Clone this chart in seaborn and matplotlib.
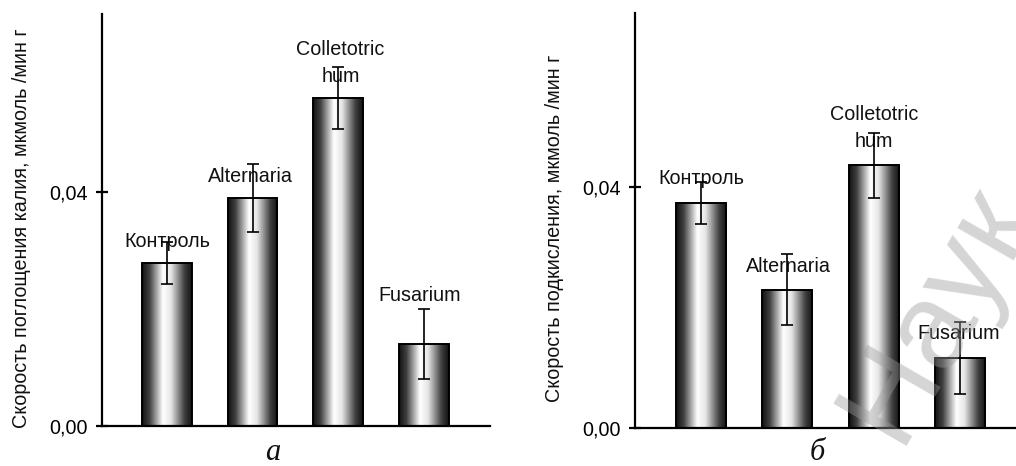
import numpy as np
import pandas as pd
import matplotlib
matplotlib.use("Agg")
import matplotlib.pyplot as plt
from matplotlib.colors import LinearSegmentedColormap
import seaborn as sns

# ---------------- data ----------------
categories = ["Контроль", "Alternaria", "Colletotrichum", "Fusarium"]
bar_labels = ["Контроль", "Alternaria", "Colletotric\nhum", "Fusarium"]

potassium_values = [0.0278, 0.0389, 0.0560, 0.0140]
potassium_errors = [0.0036, 0.0058, 0.0053, 0.0060]

acid_values = [0.0373, 0.0229, 0.0435, 0.0116]
acid_errors = [0.0035, 0.0059, 0.0054, 0.0060]

ytick_values = [0.00, 0.04]
ytick_labels = ["0,00", "0,04"]

ylabel_a = "Скорость поглощения калия, мкмоль /мин г"
ylabel_b = "Скорость подкисления, мкмоль /мин г"
panel_a = "а"
panel_b = "б"
watermark = "Наук"

# ---------------- style ----------------
sns.set_theme(style="white")
plt.rcParams["font.family"] = ["Liberation Sans", "DejaVu Sans"]
plt.rcParams["axes.linewidth"] = 1.6

W, H = 1016, 466
fig = plt.figure(figsize=(W / 100, H / 100), dpi=100)

cyl = LinearSegmentedColormap.from_list(
    "cyl", [(0.0, "#111111"), (0.15, "#404040"), (0.42, "#ffffff"),
            (0.58, "#e6e6e6"), (0.85, "#404040"), (1.0, "#111111")])
grad = np.linspace(0, 1, 256).reshape(1, -1)

FS = 14.2


def panel(rect, values, errors, ylim, xlim, ylabel, ylabel_x, letter, letter_xy,
          label_offsets):
    ax = fig.add_axes(rect)
    df = pd.DataFrame({"cat": categories, "val": values})
    sns.barplot(data=df, x="cat", y="val", ax=ax, color="white",
                edgecolor="black", linewidth=1.4, width=0.58, errorbar=None,
                zorder=2)
    for p in ax.patches:
        p.set_facecolor("none")
        x0, y0 = p.get_x(), p.get_y()
        w, h = p.get_width(), p.get_height()
        im = ax.imshow(grad, cmap=cyl, aspect="auto",
                       extent=(x0, x0 + w, y0, y0 + h), zorder=1.5,
                       interpolation="bilinear")
        im.set_clip_path(p)
    xs = np.arange(len(values))
    ax.errorbar(xs, values, yerr=errors, fmt="none", ecolor="black",
                elinewidth=1.2, capsize=4.5, capthick=1.2, zorder=4)
    for i, (lab, v, e) in enumerate(zip(bar_labels, values, errors)):
        dx, dy = label_offsets[i]
        ax.annotate(lab, xy=(i, v + e), xytext=(dx, dy),
                    textcoords="offset pixels", ha="center", va="center",
                    fontsize=FS, color="#111111", zorder=3,
                    linespacing=1.55)
    ax.set_xlim(*xlim)
    ax.set_ylim(*ylim)
    ax.set_yticks(ytick_values)
    ax.set_yticklabels(ytick_labels)
    ax.set_xticks([])
    ax.set_xlabel("")
    ax.set_ylabel("")
    for s in ["top", "right"]:
        ax.spines[s].set_visible(False)
    for s in ["left", "bottom"]:
        ax.spines[s].set_color("black")
        ax.spines[s].set_linewidth(1.6)
    ax.tick_params(axis="y", direction="inout", length=8, width=1.6,
                   labelsize=FS, pad=6, colors="black", left=True)
    ax.patch.set_alpha(0)
    fig.text(ylabel_x / W, 1 - 228 / H, ylabel, rotation=90, ha="center",
             va="center", fontsize=FS, color="#111111")
    fig.text(letter_xy[0] / W, 1 - letter_xy[1] / H, letter,
             family=["Liberation Serif", "DejaVu Serif"], style="italic",
             fontsize=22, ha="center", va="center", color="#111111")
    return ax


panel([102 / W, 1 - 426 / H, (490 - 102) / W, (426 - 14) / H],
      potassium_values, potassium_errors, (0, 0.0704), (-0.758, 3.77),
      ylabel_a, 22, panel_a, (273, 453),
      [(0, 1), (-2, -12), (2, 4), (-4, 13)])

panel([635 / W, 1 - 427.7 / H, (1020 - 635) / W, (427.7 - 13) / H],
      acid_values, acid_errors, (0, 0.0688), (-0.761, 3.69),
      ylabel_b, 555, panel_b, (817, 452),
      [(0, 3), (1, -12), (0, 5), (-2, -12)])

fig.text(937 / W, 1 - 313 / H, watermark, rotation=60, rotation_mode="anchor",
         ha="center", va="center", fontsize=88,
         color="#9a9a9a", alpha=0.42, zorder=10)

fig.savefig("out.png", dpi=100)
